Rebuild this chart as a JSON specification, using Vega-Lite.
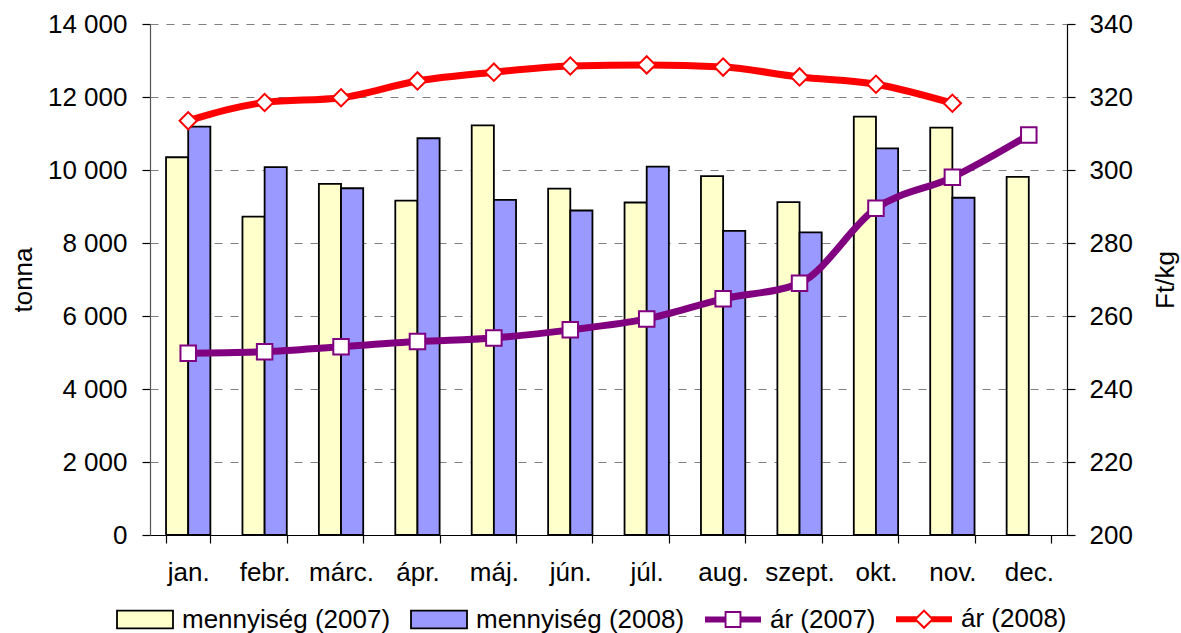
{
  "$schema": "https://vega.github.io/schema/vega-lite/v6.json",
  "width": 917,
  "height": 511,
  "autosize": {"type": "none"},
  "padding": {"left": 150, "top": 24, "right": 114, "bottom": 98},
  "background": "white",
  "config": {
    "view": {"stroke": null},
    "font": "Liberation Sans",
    "axis": {
      "labelFont": "Liberation Sans", "labelFontSize": 26, "labelColor": "black",
      "titleFont": "Liberation Sans", "titleFontSize": 26, "titleFontWeight": "normal", "titleColor": "black",
      "domainColor": "black", "tickColor": "black", "domainWidth": 1.2, "tickWidth": 1.2
    }
  },
  "datasets": {
    "qty": [
      {"month": "jan.", "series": "mennyiség (2007)", "tonna": 10350},
      {"month": "jan.", "series": "mennyiség (2008)", "tonna": 11190},
      {"month": "febr.", "series": "mennyiség (2007)", "tonna": 8720},
      {"month": "febr.", "series": "mennyiség (2008)", "tonna": 10080},
      {"month": "márc.", "series": "mennyiség (2007)", "tonna": 9620},
      {"month": "márc.", "series": "mennyiség (2008)", "tonna": 9500},
      {"month": "ápr.", "series": "mennyiség (2007)", "tonna": 9160},
      {"month": "ápr.", "series": "mennyiség (2008)", "tonna": 10870},
      {"month": "máj.", "series": "mennyiség (2007)", "tonna": 11220},
      {"month": "máj.", "series": "mennyiség (2008)", "tonna": 9180},
      {"month": "jún.", "series": "mennyiség (2007)", "tonna": 9490},
      {"month": "jún.", "series": "mennyiség (2008)", "tonna": 8890},
      {"month": "júl.", "series": "mennyiség (2007)", "tonna": 9110},
      {"month": "júl.", "series": "mennyiség (2008)", "tonna": 10090},
      {"month": "aug.", "series": "mennyiség (2007)", "tonna": 9830},
      {"month": "aug.", "series": "mennyiség (2008)", "tonna": 8330},
      {"month": "szept.", "series": "mennyiség (2007)", "tonna": 9120},
      {"month": "szept.", "series": "mennyiség (2008)", "tonna": 8290},
      {"month": "okt.", "series": "mennyiség (2007)", "tonna": 11460},
      {"month": "okt.", "series": "mennyiség (2008)", "tonna": 10590},
      {"month": "nov.", "series": "mennyiség (2007)", "tonna": 11160},
      {"month": "nov.", "series": "mennyiség (2008)", "tonna": 9240},
      {"month": "dec.", "series": "mennyiség (2007)", "tonna": 9810}
    ],
    "price": [
      {"month": "jan.", "series": "ár (2007)", "ar": 249.8},
      {"month": "febr.", "series": "ár (2007)", "ar": 250.2},
      {"month": "márc.", "series": "ár (2007)", "ar": 251.6},
      {"month": "ápr.", "series": "ár (2007)", "ar": 253.0},
      {"month": "máj.", "series": "ár (2007)", "ar": 254.0},
      {"month": "jún.", "series": "ár (2007)", "ar": 256.2},
      {"month": "júl.", "series": "ár (2007)", "ar": 259.2},
      {"month": "aug.", "series": "ár (2007)", "ar": 264.7},
      {"month": "szept.", "series": "ár (2007)", "ar": 269.0},
      {"month": "okt.", "series": "ár (2007)", "ar": 289.5},
      {"month": "nov.", "series": "ár (2007)", "ar": 298.0},
      {"month": "dec.", "series": "ár (2007)", "ar": 309.6},
      {"month": "jan.", "series": "ár (2008)", "ar": 313.5},
      {"month": "febr.", "series": "ár (2008)", "ar": 318.5},
      {"month": "márc.", "series": "ár (2008)", "ar": 319.8},
      {"month": "ápr.", "series": "ár (2008)", "ar": 324.4},
      {"month": "máj.", "series": "ár (2008)", "ar": 326.8},
      {"month": "jún.", "series": "ár (2008)", "ar": 328.5},
      {"month": "júl.", "series": "ár (2008)", "ar": 328.8},
      {"month": "aug.", "series": "ár (2008)", "ar": 328.2},
      {"month": "szept.", "series": "ár (2008)", "ar": 325.5},
      {"month": "okt.", "series": "ár (2008)", "ar": 323.5},
      {"month": "nov.", "series": "ár (2008)", "ar": 318.3}
    ]
  },
  "layer": [
    {
      "data": {"name": "qty"},
      "mark": {"type": "bar", "stroke": "black", "strokeWidth": 1.8},
      "encoding": {
        "x": {
          "field": "month", "type": "nominal",
          "scale": {"domain": ["jan.", "febr.", "márc.", "ápr.", "máj.", "jún.", "júl.", "aug.", "szept.", "okt.", "nov.", "dec."], "paddingInner": 0.42, "paddingOuter": 0.21},
          "axis": {"title": null, "labelAngle": 0, "tickBand": "extent", "tickSize": 8, "labelPadding": 16, "grid": false}
        },
        "xOffset": {
          "field": "series", "type": "nominal",
          "scale": {"domain": ["mennyiség (2007)", "mennyiség (2008)"], "paddingInner": 0, "paddingOuter": 0}
        },
        "y": {
          "field": "tonna", "type": "quantitative",
          "scale": {"domain": [0, 14000], "nice": false},
          "axis": {
            "title": "tonna",
            "values": [0, 2000, 4000, 6000, 8000, 10000, 12000, 14000],
            "labelExpr": "replace(format(datum.value, ','), ',', ' ')",
            "grid": true, "gridDash": [8, 8], "gridColor": "#808080", "gridWidth": 1.2,
            "tickSize": 8, "labelPadding": 15, "domainColor": "#555555",
            "titleAngle": -90, "titleX": -127, "titleY": 255.5, "titleAlign": "center", "titleBaseline": "middle"
          }
        },
        "fill": {
          "field": "series", "type": "nominal",
          "scale": {"domain": ["mennyiség (2007)", "mennyiség (2008)", "ár (2007)", "ár (2008)"], "range": ["#FFFFCC", "#9999FF", "#800080", "#FF0000"]},
          "legend": {
            "orient": "none", "legendX": -34, "legendY": 566, "direction": "horizontal", "columns": 4,
            "title": null, "padding": 0,
            "labelFont": "Liberation Sans", "labelFontSize": 26, "labelColor": "black", "labelOffset": 8, "labelLimit": 400,
            "columnPadding": 16, "symbolSize": 3136, "symbolStrokeWidth": 1.8,
            "symbolType": {"expr": "indexof(datum.value, 'menny') === 0 ? 'M-1,-0.32H1V0.32H-1Z' : (datum.value === 'ár (2007)' ? 'M-1,-0.107H-0.27V0.107H-1Z M0.27,-0.107H1V0.107H0.27Z M-0.3,-0.3H0.3V0.3H-0.3Z M-0.232,-0.232V0.232H0.232V-0.232Z' : 'M-1,-0.107H-0.26V0.107H-1Z M0.26,-0.107H1V0.107H0.26Z M-0.357,0L0,-0.357L0.357,0L0,0.357Z M-0.256,0L0,0.256L0.256,0L0,-0.256Z')"},
            "symbolStrokeColor": {"expr": "indexof(datum.value, 'menny') === 0 ? 'black' : 'transparent'"}
          }
        }
      }
    },
    {
      "data": {"name": "price"},
      "layer": [
        {
          "mark": {"type": "line", "interpolate": "monotone", "strokeWidth": 7},
          "encoding": {
            "x": {"field": "month", "type": "nominal", "scale": {"domain": ["jan.", "febr.", "márc.", "ápr.", "máj.", "jún.", "júl.", "aug.", "szept.", "okt.", "nov.", "dec."]}},
            "y": {
              "field": "ar", "type": "quantitative",
              "scale": {"domain": [200, 340], "nice": false},
              "axis": {
                "orient": "right", "title": "Ft/kg",
                "values": [200, 220, 240, 260, 280, 300, 320, 340],
                "grid": false, "tickSize": 8, "labelPadding": 14,
                "titleAngle": -90, "titleX": 98, "titleY": 255.5, "titleAlign": "center", "titleBaseline": "middle"
              }
            },
            "stroke": {"field": "series", "type": "nominal", "scale": {"domain": ["ár (2007)", "ár (2008)"], "range": ["#800080", "#FF0000"]}, "legend": null}
          }
        },
        {
          "transform": [{"filter": "datum.series === 'ár (2007)'"}],
          "mark": {"type": "point", "shape": "square", "filled": true, "fill": "white", "stroke": "#800080", "strokeWidth": 2, "size": 240, "opacity": 1},
          "encoding": {
            "x": {"field": "month", "type": "nominal"},
            "y": {"field": "ar", "type": "quantitative"}
          }
        },
        {
          "transform": [{"filter": "datum.series === 'ár (2008)'"}],
          "mark": {"type": "point", "shape": "diamond", "filled": true, "fill": "white", "stroke": "#FF0000", "strokeWidth": 2, "size": 300, "opacity": 1},
          "encoding": {
            "x": {"field": "month", "type": "nominal"},
            "y": {"field": "ar", "type": "quantitative"}
          }
        }
      ]
    }
  ],
  "resolve": {"scale": {"y": "independent"}}
}
